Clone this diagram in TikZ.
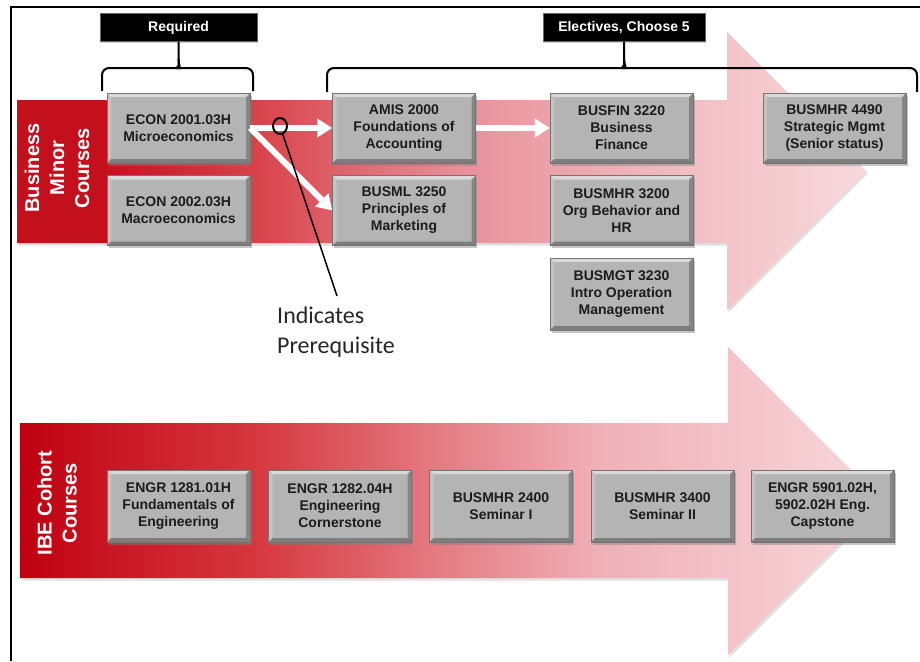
\documentclass[tikz,border=0pt]{standalone}
\usepackage{fontspec}
\setmainfont{Liberation Sans}
\newfontfamily\carlito{Carlito}
\usetikzlibrary{arrows.meta,shadows,shapes.geometric}
\definecolor{tA}{HTML}{C00010}
\definecolor{tB}{HTML}{C81020}
\definecolor{tC}{HTML}{D84048}
\definecolor{tD}{HTML}{E8909A}
\definecolor{tE}{HTML}{F2C0C5}
\definecolor{tF}{HTML}{F7D8DB}
\definecolor{bA}{HTML}{BE0010}
\definecolor{bB}{HTML}{C81422}
\definecolor{bC}{HTML}{D63840}
\definecolor{bD}{HTML}{E47880}
\definecolor{bE}{HTML}{F0B0B8}
\definecolor{bF}{HTML}{F7D8DB}
\definecolor{labelred}{HTML}{C3101C}
\definecolor{boxgray}{HTML}{B4B4B4}
\definecolor{boxtext}{HTML}{1C1C1C}
\definecolor{notetext}{HTML}{262626}
\pgfdeclarehorizontalshading{topshade}{100bp}{color(0bp)=(tA); color(25bp)=(tA); color(30.3bp)=(tB); color(38.7bp)=(tC); color(51.1bp)=(tD); color(65.2bp)=(tE); color(75bp)=(tF); color(100bp)=(tF)}
\pgfdeclarehorizontalshading{botshade}{100bp}{color(0bp)=(bA); color(25bp)=(bA); color(29.6bp)=(bB); color(38.9bp)=(bC); color(48.8bp)=(bD); color(58.6bp)=(bE); color(75bp)=(bF); color(100bp)=(bF)}
\tikzset{
  course/.style={draw=black!55, line width=0.5pt, fill=boxgray,
    minimum width=143pt, minimum height=70pt, inner sep=1pt, align=center,
    text=boxtext, font=\bfseries\fontsize{14}{17}\selectfont,
    drop shadow={shadow xshift=1.5pt, shadow yshift=-2.5pt, opacity=0.45},
    path picture={
      \fill[white,opacity=0.5] (path picture bounding box.north west) -- (path picture bounding box.north east) -- ([xshift=-4pt,yshift=-4pt]path picture bounding box.north east) -- ([xshift=4pt,yshift=-4pt]path picture bounding box.north west) -- cycle;
      \fill[black,opacity=0.3] (path picture bounding box.south west) -- (path picture bounding box.south east) -- ([xshift=-4pt,yshift=4pt]path picture bounding box.south east) -- ([xshift=4pt,yshift=4pt]path picture bounding box.south west) -- cycle;
      \fill[black,opacity=0.25] (path picture bounding box.north east) -- (path picture bounding box.south east) -- ([xshift=-4pt,yshift=4pt]path picture bounding box.south east) -- ([xshift=-4pt,yshift=-4pt]path picture bounding box.north east) -- cycle;
      \fill[white,opacity=0.2] (path picture bounding box.north west) -- (path picture bounding box.south west) -- ([xshift=4pt,yshift=4pt]path picture bounding box.south west) -- ([xshift=4pt,yshift=-4pt]path picture bounding box.north west) -- cycle;
    }},
  lbl/.style={fill=black, draw=black!60, line width=0.6pt, text=white,
    font=\bfseries\fontsize{14}{16}\selectfont, minimum height=28pt, inner sep=1pt,
    drop shadow={shadow xshift=1pt, shadow yshift=-1.5pt, opacity=0.35}},
  brc/.style={line width=2pt, black, rounded corners=7pt},
  warrow/.style={white, line width=6pt, -{Triangle[length=15pt,width=18pt]}},
  sidelbl/.style={rotate=90, text=white, align=center,
    font=\bfseries\fontsize{20}{25}\selectfont},
  arrowshadow/.style={fill=black, opacity=0.12, xshift=1.5pt, yshift=-2.5pt}
}
\begin{document}
\begin{tikzpicture}[x=1pt,y=-1pt]
\useasboundingbox (0,0) rectangle (920,661);
\fill[white] (0,0) rectangle (920,661);
% frame
\draw[line width=1.5pt] (11,661) -- (11,7) -- (920,7);
% big arrows
\fill[arrowshadow] (17,100) -- (727,100) -- (727,32) -- (866,171) -- (727,310) -- (727,243) -- (17,243) -- cycle;
\shade[shading=topshade] (17,100) -- (727,100) -- (727,32) -- (866,171) -- (727,310) -- (727,243) -- (17,243) -- cycle;
\fill[labelred] (17,100) rectangle (107,243);
\fill[arrowshadow] (20,423) -- (728,423) -- (728,347) -- (882,501) -- (728,655) -- (728,578) -- (20,578) -- cycle;
\shade[shading=botshade] (20,423) -- (728,423) -- (728,347) -- (882,501) -- (728,655) -- (728,578) -- (20,578) -- cycle;
% side labels
\node[sidelbl] (bmc) at (57,168) {Business\\Minor\\Courses};
\node[sidelbl] (ibe) at (57,503) {IBE Cohort\\Courses};
% header labels
\node[lbl, minimum width=157pt] (req) at (178.5,27.5) {Required};
\node[lbl, minimum width=162pt] (elec) at (624,27.5) {Electives, Choose 5};
% braces
\draw[brc] (102,91) -- (102,68) -- (171,68) .. controls (176,68) and (178.5,65) .. (178.5,59) -- (req.south);
\draw[brc] (253,91) -- (253,68) -- (186,68) .. controls (181,68) and (178.5,65) .. (178.5,59);
\draw[brc] (327,92) -- (327,68) -- (616,68) .. controls (621,68) and (624,65) .. (624,59) -- (elec.south);
\draw[brc] (917,92) -- (917,68) -- (632,68) .. controls (627,68) and (624,65) .. (624,59);
% business minor courses
\node[course] (e1) at (178.5,128) {ECON 2001.03H\\Microeconomics};
\node[course] (e2) at (178.5,210.5) {ECON 2002.03H\\Macroeconomics};
\node[course] (amis) at (404,128) {AMIS 2000\\Foundations of\\Accounting};
\node[course] (busml) at (404,210.5) {BUSML 3250\\Principles of\\Marketing};
\node[course] (busfin) at (621.5,128) {BUSFIN 3220\\Business\\Finance};
\node[course] (bmhr32) at (621.5,210.5) {BUSMHR 3200\\Org Behavior and\\HR};
\node[course, minimum height=72pt] (bmgt) at (621.5,294) {BUSMGT 3230\\Intro Operation\\Management};
\node[course] (bmhr44) at (834.5,128) {BUSMHR 4490\\Strategic Mgmt\\(Senior status)};
% IBE cohort courses
\node[course, minimum height=72pt] (g1) at (178.5,506) {ENGR 1281.01H\\Fundamentals of\\Engineering};
\node[course, minimum height=72pt] (g2) at (340,506) {ENGR 1282.04H\\Engineering\\Cornerstone};
\node[course, minimum height=72pt] (g3) at (501,506) {BUSMHR 2400\\Seminar I};
\node[course, minimum height=72pt] (g4) at (662.5,506) {BUSMHR 3400\\Seminar II};
\node[course, minimum height=72pt] (g5) at (822.5,506) {ENGR 5901.02H,\\5902.02H Eng.\\Capstone};
% prerequisite arrows
\draw[warrow] (e1.east) -- (amis.west);
\draw[warrow] (e1.east) -- (busml.west);
\draw[warrow] (amis.east) -- (busfin.west);
% note
\node[ellipse, draw=black, line width=2pt, minimum width=14pt, minimum height=16pt, inner sep=0pt] (circ) at (280,126) {};
\coordinate (lineend) at (337,296);
\draw[line width=1.5pt] (circ) -- (lineend);
\node[anchor=north west, inner sep=0pt, align=left, text=notetext, font=\carlito\fontsize{24}{30}\selectfont] (note) at (277,307) {Indicates\\Prerequisite};
\end{tikzpicture}
\end{document}
